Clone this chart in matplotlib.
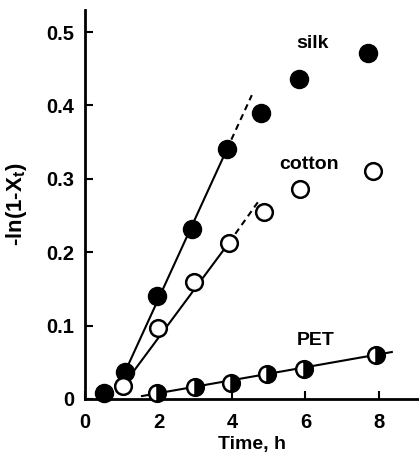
import numpy as np
from matplotlib import pyplot as plt

# data
silk_t = [0.52, 1.09, 1.96, 2.91, 3.86, 4.79, 5.82, 7.70]
silk_y = [0.008, 0.037, 0.140, 0.232, 0.340, 0.390, 0.436, 0.471]
cotton_t = [1.03, 1.99, 2.97, 3.92, 4.87, 5.85, 7.84]
cotton_y = [0.018, 0.097, 0.160, 0.213, 0.255, 0.286, 0.311]
pet_t = [1.96, 3.00, 3.97, 4.96, 5.96, 7.92]
pet_y = [0.008, 0.017, 0.022, 0.034, 0.041, 0.060]

# fitted lines: solid part and dashed extension
silk_fit_t = [1.09, 3.86, 4.54]
silk_fit_y = [0.037, 0.340, 0.414]
cotton_fit_t = [1.03, 3.92, 4.76]
cotton_fit_y = [0.018, 0.213, 0.272]
pet_fit_t = [1.55, 8.35]
pet_fit_y = [0.004, 0.064]

xticks = [0, 2, 4, 6, 8]
yticks = [0, 0.1, 0.2, 0.3, 0.4, 0.5]
ytick_labels = ['0', '0.1', '0.2', '0.3', '0.4', '0.5']

plt.rcParams['font.family'] = ['Liberation Sans', 'DejaVu Sans']
plt.rcParams['font.weight'] = 'bold'

fig = plt.figure(figsize=(4.19, 4.55), dpi=100)
ax = fig.add_axes([85 / 419, 56 / 455, 334 / 419, 389 / 455])

lw = 1.5
# silk line
ax.plot(silk_fit_t[:2], silk_fit_y[:2], c='black', lw=lw, zorder=1)
ax.plot(silk_fit_t[1:], silk_fit_y[1:], c='black', lw=lw, ls=(0, (3, 2.2)), zorder=1)
# cotton line
ax.plot(cotton_fit_t[:2], cotton_fit_y[:2], c='black', lw=lw, zorder=1)
ax.plot(cotton_fit_t[1:], cotton_fit_y[1:], c='black', lw=lw, ls=(0, (3, 2.2)), zorder=1)
# PET line
ax.plot(pet_fit_t, pet_fit_y, c='black', lw=lw, zorder=1)

ax.plot(silk_t, silk_y, 'o', ms=13, mfc='black', mec='black', zorder=3, clip_on=False)
ax.plot(cotton_t, cotton_y, 'o', ms=12, mfc='white', mec='black', mew=1.8, zorder=3, clip_on=False)
ax.plot(pet_t, pet_y, 'o', ms=12, fillstyle='right', mfc='black', mfcalt='white',
        mec='black', mew=1.8, zorder=3, clip_on=False)

ax.text(6.18, 0.485, 'silk', fontsize=14, fontweight='bold', ha='center', va='center')
ax.text(6.1, 0.319, 'cotton', fontsize=14, fontweight='bold', ha='center', va='center')
ax.text(6.28, 0.080, 'PET', fontsize=14, fontweight='bold', ha='center', va='center')

ax.set_xlim(0, 9.09)
ax.set_ylim(0, 0.53)
ax.set_xticks(xticks)
ax.set_yticks(yticks)
ax.set_yticklabels(ytick_labels)
ax.tick_params(axis='both', direction='in', length=6, width=1.5, labelsize=14.5, pad=8)
ax.tick_params(axis='x', pad=10)

for side in ['top', 'right']:
    ax.spines[side].set_visible(False)
for side in ['left', 'bottom']:
    ax.spines[side].set_linewidth(2)

ax.set_xlabel('Time, h', fontsize=14, fontweight='bold', labelpad=3)
ax.set_ylabel(r'-ln(1-X$_\mathregular{t}$)', fontsize=16, fontweight='bold', labelpad=12)

fig.savefig('out.png', dpi=100)
